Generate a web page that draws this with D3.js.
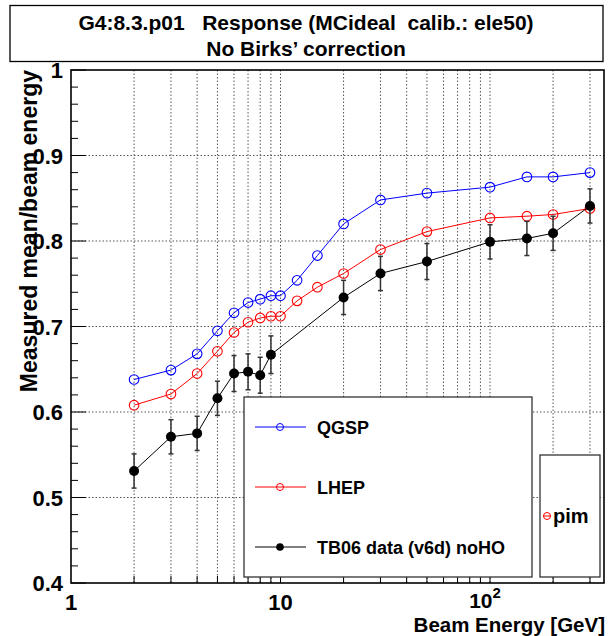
<!DOCTYPE html>
<html><head><meta charset="utf-8">
<script src="https://cdn.jsdelivr.net/npm/d3@7"></script>
<style>
body{margin:0;background:#fff;}
svg text{font-family:"Liberation Sans",Arial,Helvetica,sans-serif;font-weight:bold;white-space:pre;}
</style></head>
<body><svg id="c" width="609" height="636"></svg>
<script>
const energies = [2,3,4,5,6,7,8,9,10,12,15,20,30,50,100,150,200,300];
const qgsp = [0.638,0.649,0.668,0.695,0.716,0.728,0.732,0.736,0.736,0.754,0.783,0.820,0.848,0.856,0.863,0.875,0.875,0.880];
const lhep = [0.608,0.621,0.645,0.671,0.693,0.705,0.710,0.712,0.712,0.730,0.746,0.762,0.790,0.811,0.827,0.829,0.831,0.838];
const dataE = [2,3,4,5,6,7,8,9,20,30,50,100,150,200,300];
const dataV = [0.531,0.571,0.575,0.616,0.645,0.647,0.643,0.667,0.734,0.762,0.776,0.799,0.803,0.809,0.841];
const dataErr = [0.02,0.02,0.02,0.02,0.021,0.021,0.021,0.022,0.02,0.02,0.021,0.02,0.02,0.02,0.02];
const yTicks = [0.4,0.5,0.6,0.7,0.8,0.9,1];
const xMajor = [1,10,100];
const xMinor = [2,3,4,5,6,7,8,9,20,30,40,50,60,70,80,90,200,300];
const title1 = "G4:8.3.p01   Response (MCideal  calib.: ele50)";
const title2 = "No Birks\u2019 correction";
const legendLabels = ["QGSP","LHEP","TB06 data (v6d) noHO"];
const xTitle = "Beam Energy [GeV]";
const yTitle = "Measured mean/beam energy";

const svg = d3.select("#c");
const L=71,R=604,T=70,B=583;
const x = d3.scaleLog().domain([1,350]).range([L,R]);
const y = d3.scaleLinear().domain([0.4,1]).range([B,T]);

// title box
svg.append("rect").attr("x",10).attr("y",5.5).attr("width",593).attr("height",56)
  .attr("fill","#fff").attr("stroke","#000").attr("stroke-width",1.3);
svg.append("text").attr("x",306).attr("y",30).attr("text-anchor","middle").attr("font-size",21).text(title1);
svg.append("text").attr("x",306).attr("y",56).attr("text-anchor","middle").attr("font-size",21).text(title2);

// grid
const g = svg.append("g");
const gridXLines = [2,3,4,5,6,7,8,9,10,20,30,40,50,60,70,80,90,100,200,300];
g.selectAll(".gx").data(gridXLines).enter().append("line")
  .attr("x1",d=>x(d)).attr("x2",d=>x(d)).attr("y1",T).attr("y2",B)
  .attr("stroke","#555").attr("stroke-width",1).attr("stroke-dasharray","1.5,2");
g.selectAll(".gy").data(yTicks.filter(v=>v>0.4&&v<1)).enter().append("line")
  .attr("x1",L).attr("x2",R).attr("y1",d=>y(d)).attr("y2",d=>y(d))
  .attr("stroke","#555").attr("stroke-width",1).attr("stroke-dasharray","1.5,2");

// axes ticks
const yMinor = d3.range(0.42,1.0,0.02).filter(v=>Math.abs(v*10-Math.round(v*10))>0.01);
svg.selectAll(".ymaj").data(yTicks).enter().append("line")
  .attr("x1",L).attr("x2",L+15).attr("y1",d=>y(d)).attr("y2",d=>y(d)).attr("stroke","#000");
svg.selectAll(".ymin").data(yMinor).enter().append("line")
  .attr("x1",L).attr("x2",L+7).attr("y1",d=>y(d)).attr("y2",d=>y(d)).attr("stroke","#000");
svg.selectAll(".xmaj").data([10,100]).enter().append("line")
  .attr("x1",d=>x(d)).attr("x2",d=>x(d)).attr("y1",B).attr("y2",B-15).attr("stroke","#000");
svg.selectAll(".xmin").data(xMinor).enter().append("line")
  .attr("x1",d=>x(d)).attr("x2",d=>x(d)).attr("y1",B).attr("y2",B-7).attr("stroke","#000");

// tick labels
svg.selectAll(".yl").data(yTicks).enter().append("text")
  .attr("x",63).attr("y",d=>y(d)+8).attr("text-anchor","end").attr("font-size",22)
  .text(d=>d===1?"1":d3.format(".1f")(d));
svg.append("text").attr("x",x(1)).attr("y",610).attr("text-anchor","middle").attr("font-size",22).text("1");
svg.append("text").attr("x",x(10)).attr("y",610).attr("text-anchor","middle").attr("font-size",22).text("10");
const t100 = svg.append("text").attr("x",x(100)-5).attr("y",608).attr("text-anchor","middle").attr("font-size",21);
t100.append("tspan").text("10");
t100.append("tspan").attr("dy",-10).attr("font-size",15).text("2");

// axis titles
svg.append("text").attr("x",605).attr("y",631.5).attr("text-anchor","end").attr("font-size",20.5).text(xTitle);
svg.append("text").attr("transform","translate(37,70) rotate(-90)").attr("text-anchor","end").attr("font-size",23).text(yTitle);

// series
const line = d3.line().x(d=>x(d[0])).y(d=>y(d[1]));
function drawOpen(vals,color){
  const pts = energies.map((e,i)=>[e,vals[i]]);
  svg.append("path").attr("d",line(pts)).attr("fill","none").attr("stroke",color).attr("stroke-width",1);
  svg.selectAll(null).data(pts).enter().append("circle")
    .attr("cx",d=>x(d[0])).attr("cy",d=>y(d[1])).attr("r",4.8)
    .attr("fill","none").attr("stroke",color).attr("stroke-width",1.1);
}
drawOpen(qgsp,"#0000ff");
drawOpen(lhep,"#ff0000");

const dpts = dataE.map((e,i)=>[e,dataV[i],dataErr[i]]);
svg.append("path").attr("d",line(dpts)).attr("fill","none").attr("stroke","#000").attr("stroke-width",1);
const eb = svg.append("g").attr("stroke","#333").attr("stroke-width",1.5);
dpts.forEach(d=>{
  const cx=x(d[0]);
  eb.append("line").attr("x1",cx).attr("x2",cx).attr("y1",y(d[1]+d[2])).attr("y2",y(d[1]-d[2]));
  eb.append("line").attr("x1",cx-2.5).attr("x2",cx+2.5).attr("y1",y(d[1]+d[2])).attr("y2",y(d[1]+d[2]));
  eb.append("line").attr("x1",cx-2.5).attr("x2",cx+2.5).attr("y1",y(d[1]-d[2])).attr("y2",y(d[1]-d[2]));
});
svg.selectAll(null).data(dpts).enter().append("circle")
  .attr("cx",d=>x(d[0])).attr("cy",d=>y(d[1])).attr("r",5).attr("fill","#000");

// frame
svg.append("rect").attr("x",L).attr("y",T).attr("width",R-L).attr("height",B-T)
  .attr("fill","none").attr("stroke","#000").attr("stroke-width",1.6);

// legend
svg.append("rect").attr("x",244).attr("y",397).attr("width",288).attr("height",180)
  .attr("fill","#fff").attr("stroke","#333").attr("stroke-width",1.3);
const lc = ["#0000ff","#ff0000","#000"];
[427,487,547].forEach((ly,i)=>{
  svg.append("line").attr("x1",255).attr("x2",306).attr("y1",ly).attr("y2",ly).attr("stroke",lc[i]).attr("stroke-width",1);
  if(i<2) svg.append("circle").attr("cx",280).attr("cy",ly).attr("r",3.5).attr("fill","none").attr("stroke",lc[i]);
  else svg.append("circle").attr("cx",280).attr("cy",ly).attr("r",3.8).attr("fill","#000");
  svg.append("text").attr("x",317).attr("y",ly+7).attr("font-size",18).text(legendLabels[i]);
});
svg.append("rect").attr("x",540).attr("y",455).attr("width",60).attr("height",122)
  .attr("fill","#fff").attr("stroke","#333").attr("stroke-width",1.3);
svg.append("circle").attr("cx",547).attr("cy",516).attr("r",3.5).attr("fill","none").attr("stroke","#ff0000");
svg.append("line").attr("x1",543).attr("x2",551).attr("y1",516).attr("y2",516).attr("stroke","#ff0000");
svg.append("text").attr("x",553).attr("y",523).attr("font-size",20).text("pim");
</script></body></html>
